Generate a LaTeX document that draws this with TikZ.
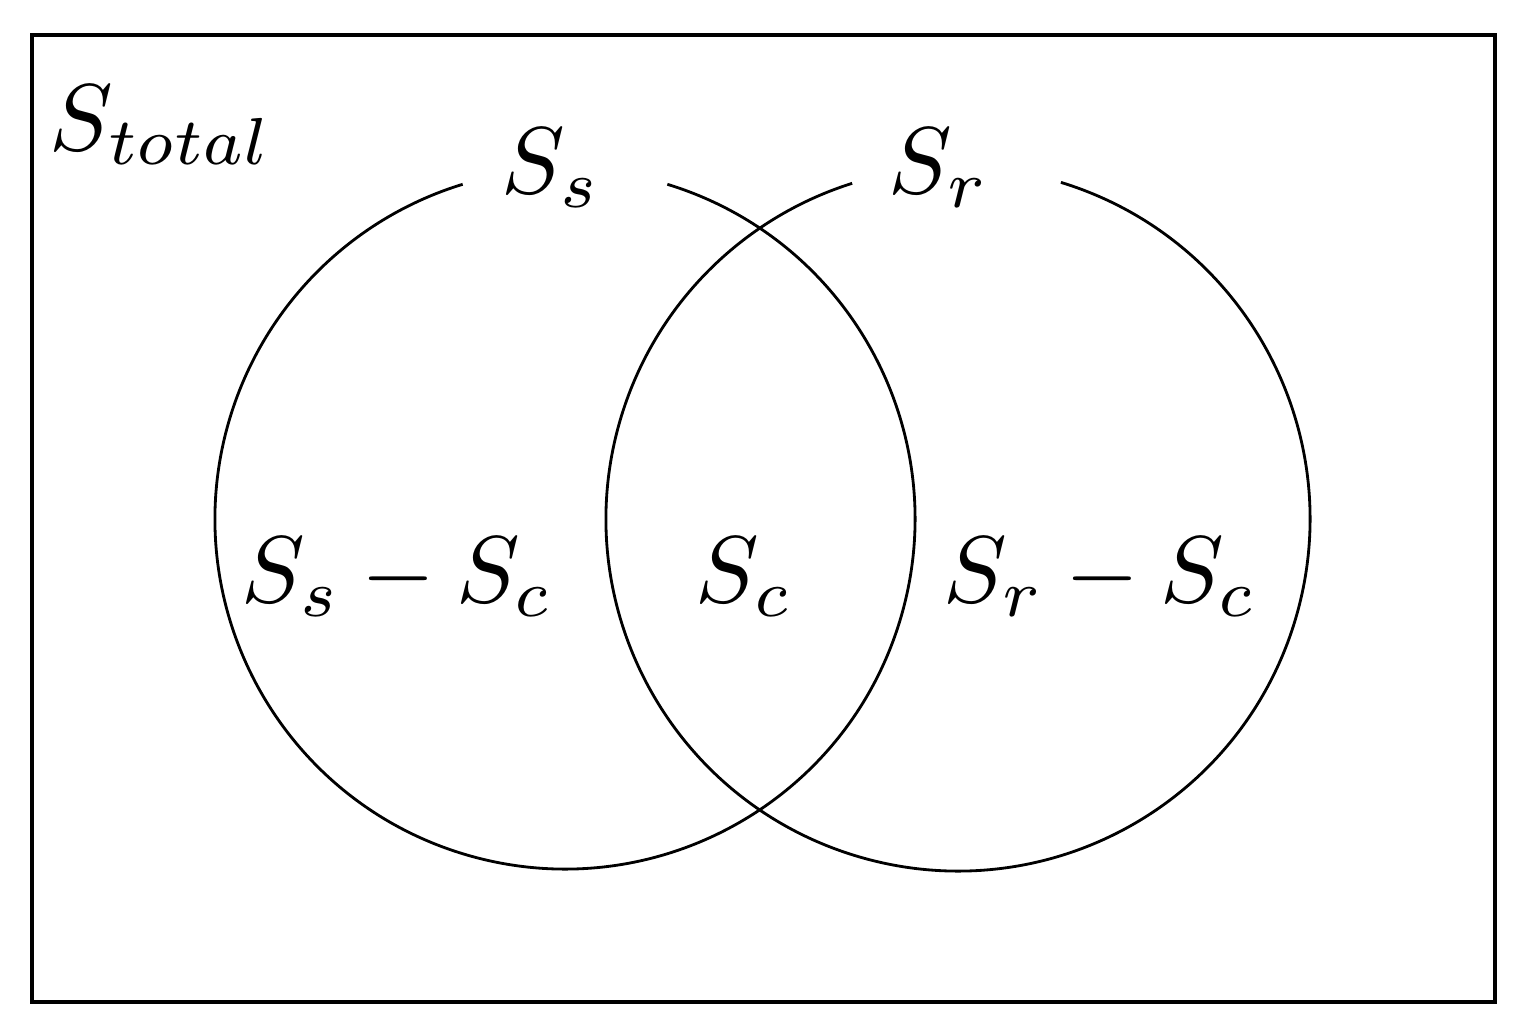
\documentclass[tikz,border=0pt]{standalone}
\begin{document}
\begin{tikzpicture}[x=0.01cm,y=-0.01cm,
  lbl/.style={inner sep=0pt,scale=2.7,transform shape},
  ring/.style={line width=0.8pt},
  frame/.style={line width=1.4pt}]
\useasboundingbox (0,0) rectangle (1525,1027);
\draw[frame] (32,35) rectangle (1495,1002);
% left circle, centre (565,519), r 350 (y axis points down)
\draw[ring] (565,519) ++(287:350) arc[start angle=287,end angle=613,radius=350];
% right circle, centre (958,519), r 352
\draw[ring] (958,519) ++(287:352) arc[start angle=287,end angle=612.5,radius=352];
\node[lbl,anchor=base west] (tot) at (48,150) {$S_{total}$};
\node[lbl,anchor=base west] (ss) at (500,193) {$S_s$};
\node[lbl,anchor=base west] (sr) at (887,193) {$S_r$};
\node[lbl,anchor=base west] (ssc) at (240,602) {$S_s-S_c$};
\node[lbl,anchor=base west] (sc) at (694,602) {$S_c$};
\node[lbl,anchor=base west] (src) at (942,602) {$S_r-S_c$};
\end{tikzpicture}
\end{document}
